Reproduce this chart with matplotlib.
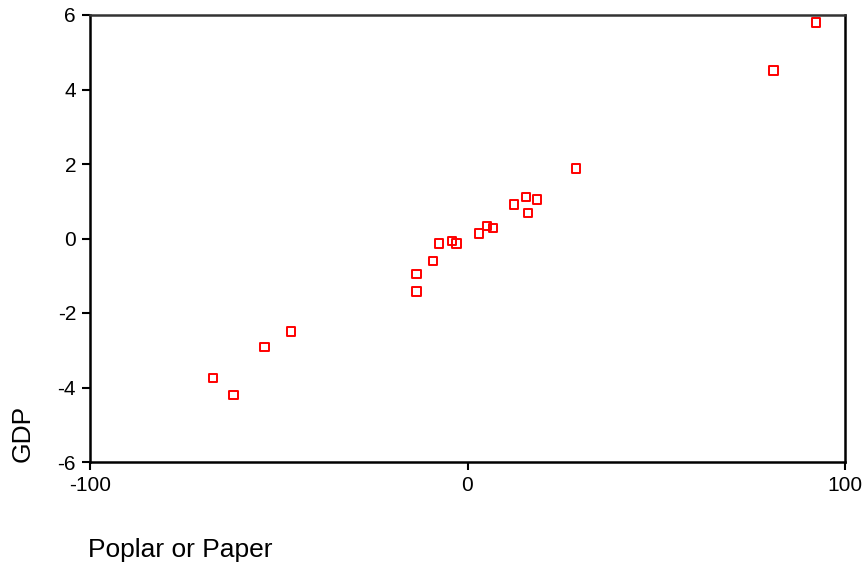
import matplotlib
matplotlib.use("Agg")
import matplotlib.pyplot as plt

plt.rcParams['font.family'] = ['Liberation Sans', 'DejaVu Sans']

poplar_or_paper = [-67.4, -62.0, -53.8, -46.8, -13.5, -13.5, -9.1, -7.5, -4.1, -2.9,
                   3.1, 5.1, 6.8, 12.3, 15.5, 16.0, 18.4, 28.7, 81.1, 92.3]
gdp = [-3.74, -4.20, -2.92, -2.50, -0.96, -1.42, -0.60, -0.13, -0.07, -0.13,
       0.13, 0.34, 0.28, 0.91, 1.11, 0.69, 1.05, 1.88, 4.51, 5.80]

x_ticks = [-100, 0, 100]
y_ticks = [-6, -4, -2, 0, 2, 4, 6]

fig = plt.figure(figsize=(8.66, 5.67), dpi=100)
ax = fig.add_axes([90/866, 1-462/567, (845-90)/866, (462-15)/567])

ax.scatter(poplar_or_paper, gdp, marker='s', s=36, facecolors='none',
           edgecolors='#ff0000', linewidths=1.4, zorder=3)

ax.set_xlim(-100, 100)
ax.set_ylim(-6, 6)
ax.set_xticks(x_ticks)
ax.set_yticks(y_ticks)
ax.set_xticklabels([str(v) for v in x_ticks])
ax.set_yticklabels([str(v) for v in y_ticks])
ax.tick_params(direction='out', length=6, width=1.5, labelsize=15, pad=4)
for side in ['left', 'bottom', 'right']:
    ax.spines[side].set_linewidth(1.8)
    ax.spines[side].set_color('black')
ax.spines['top'].set_linewidth(1.8)
ax.spines['top'].set_color('#333333')

fig.text(23/866, 1-462/567, 'GDP', rotation=90, ha='center', va='bottom', fontsize=19)
fig.text(88/866, 1-557/567, 'Poplar or Paper', ha='left', va='baseline', fontsize=19)

fig.savefig('out.png', dpi=100)
